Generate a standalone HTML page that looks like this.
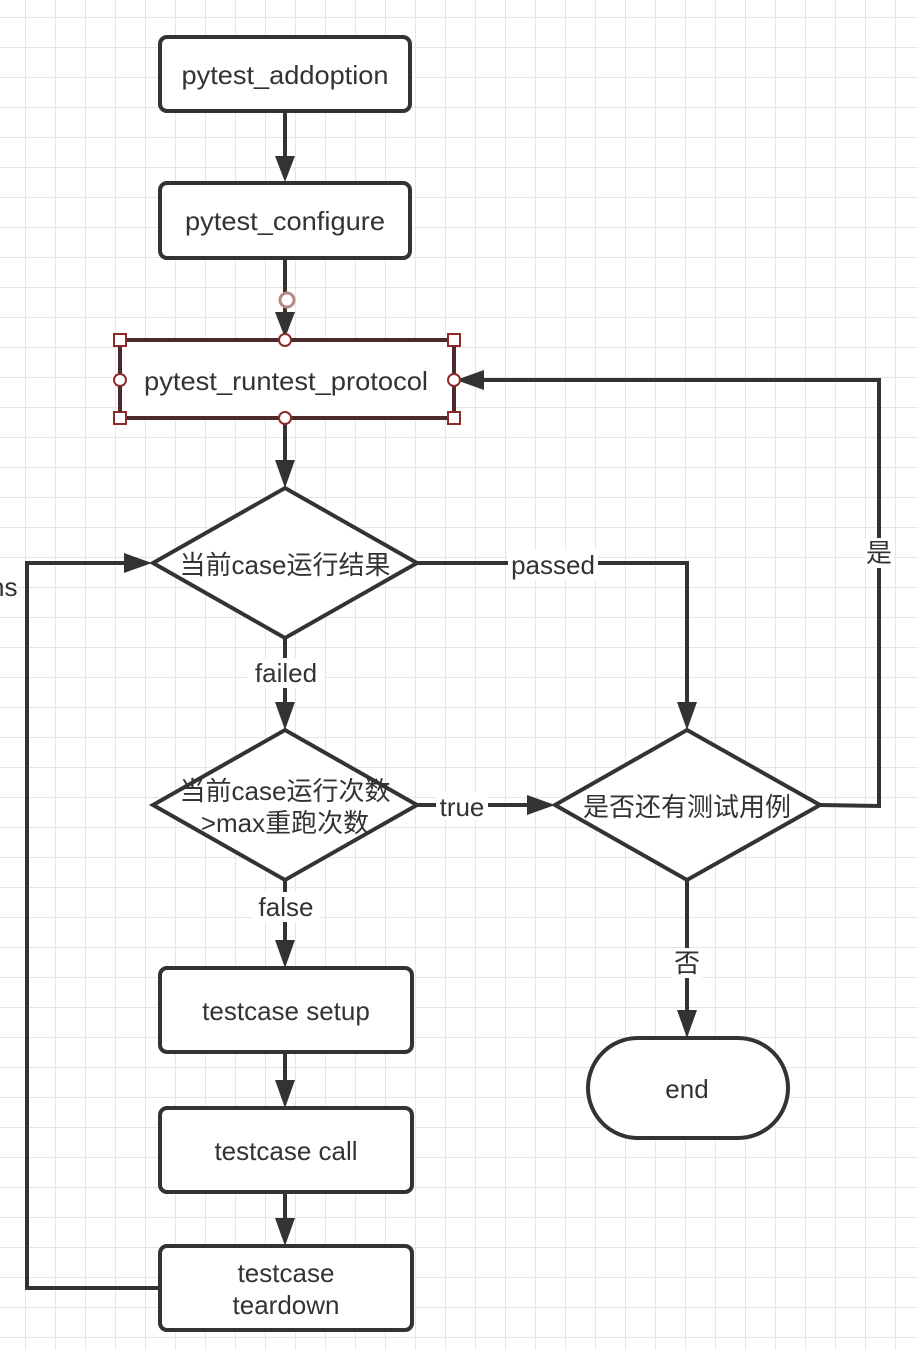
<!DOCTYPE html>
<html><head><meta charset="utf-8"><style>
html,body{margin:0;padding:0;background:#fff;}
svg{display:block;}
text{font-family:"Liberation Sans","Noto Sans CJK SC",sans-serif;fill:#333;font-size:26px;}
</style></head><body>
<svg width="918" height="1350" viewBox="0 0 918 1350" xmlns="http://www.w3.org/2000/svg">
<defs>
<pattern id="g" x="25" y="17" width="30" height="30" patternUnits="userSpaceOnUse">
<path d="M0 0V30M0 0H30" stroke="#e6e6e6" stroke-width="2" fill="none"/>
</pattern>
</defs>
<rect width="918" height="1350" fill="url(#g)"/>
<g stroke="#333" stroke-width="4" fill="none">
<path d="M285 111V166"/><path d="M285 258V325"/><path d="M285 418V474"/>
<path d="M285 638V714"/><path d="M285 880V952"/><path d="M285 1052V1092"/><path d="M285 1192V1230"/>
<path d="M417 563H687V714"/><path d="M417 805H538"/><path d="M687 880V1022"/>
<path d="M820 805L879 806V380H476"/><path d="M160 1288H27V563H136"/>
</g>
<g fill="#333">
<path d="M275 156L295 156L285 182z"/><path d="M275 312L295 312L285 338z"/><path d="M275 460L295 460L285 488z"/>
<path d="M275 702L295 702L285 730z"/><path d="M275 940L295 940L285 968z"/><path d="M275 1080L295 1080L285 1108z"/><path d="M275 1218L295 1218L285 1246z"/>
<path d="M677 702L697 702L687 730z"/><path d="M677 1010L697 1010L687 1038z"/>
<path d="M527 795L527 815L555 805z"/><path d="M484 370L484 390L456 380z"/><path d="M124 553L124 573L152 563z"/>
</g>
<g stroke="#333" stroke-width="4" fill="#fff">
<rect x="160" y="37" width="250" height="74" rx="7"/>
<rect x="160" y="183" width="250" height="75" rx="7"/>
<rect x="160" y="968" width="252" height="84" rx="7"/>
<rect x="160" y="1108" width="252" height="84" rx="7"/>
<rect x="160" y="1246" width="252" height="84" rx="7"/>
<rect x="588" y="1038" width="200" height="100" rx="50"/>
<path d="M285 488L417 563L285 638L153 563z"/>
<path d="M285 730L417 805L285 880L153 805z"/>
<path d="M687 730L820 805L687 880L555 805z"/>
</g>
<rect x="120" y="340" width="334" height="78" fill="#fff" stroke="#4a2a2a" stroke-width="4"/>
<g stroke="#8b2a2a" stroke-width="2" fill="#fff">
<rect x="114" y="334" width="12" height="12"/><rect x="448" y="334" width="12" height="12"/>
<rect x="114" y="412" width="12" height="12"/><rect x="448" y="412" width="12" height="12"/>
<circle cx="285" cy="340" r="6"/><circle cx="285" cy="418" r="6"/>
<circle cx="120" cy="380" r="6"/><circle cx="454" cy="380" r="6"/>
<circle cx="287" cy="300" r="7" stroke="#b88" stroke-width="3"/>
</g>
<g text-anchor="middle">
<text x="285" y="84" textLength="207" lengthAdjust="spacingAndGlyphs">pytest_addoption</text>
<text x="285" y="230" textLength="200" lengthAdjust="spacingAndGlyphs">pytest_configure</text>
<text x="286" y="390" textLength="284" lengthAdjust="spacingAndGlyphs">pytest_runtest_protocol</text>
<text x="285" y="574">当前case运行结果</text>
<text x="285" y="800">当前case运行次数</text>
<text x="285" y="832">&gt;max重跑次数</text>
<text x="687" y="816">是否还有测试用例</text>
<text x="286" y="1020">testcase setup</text>
<text x="286" y="1160">testcase call</text>
<text x="286" y="1282">testcase</text>
<text x="286" y="1314">teardown</text>
<text x="687" y="1098">end</text>
</g>
<g text-anchor="middle">
<rect x="248" y="658" width="76" height="30" fill="#fff"/><text x="286" y="682">failed</text>
<rect x="252" y="892" width="68" height="30" fill="#fff"/><text x="286" y="916">false</text>
<rect x="508" y="550" width="90" height="30" fill="#fff"/><text x="553" y="574">passed</text>
<rect x="436" y="792" width="52" height="28" fill="#fff"/><text x="462" y="816">true</text>
<rect x="864" y="538" width="30" height="30" fill="#fff"/><text x="879" y="562">是</text>
<rect x="672" y="948" width="30" height="30" fill="#fff"/><text x="687" y="972">否</text>
</g>
<text x="-10" y="596">ns</text>
</svg>
</body></html>
